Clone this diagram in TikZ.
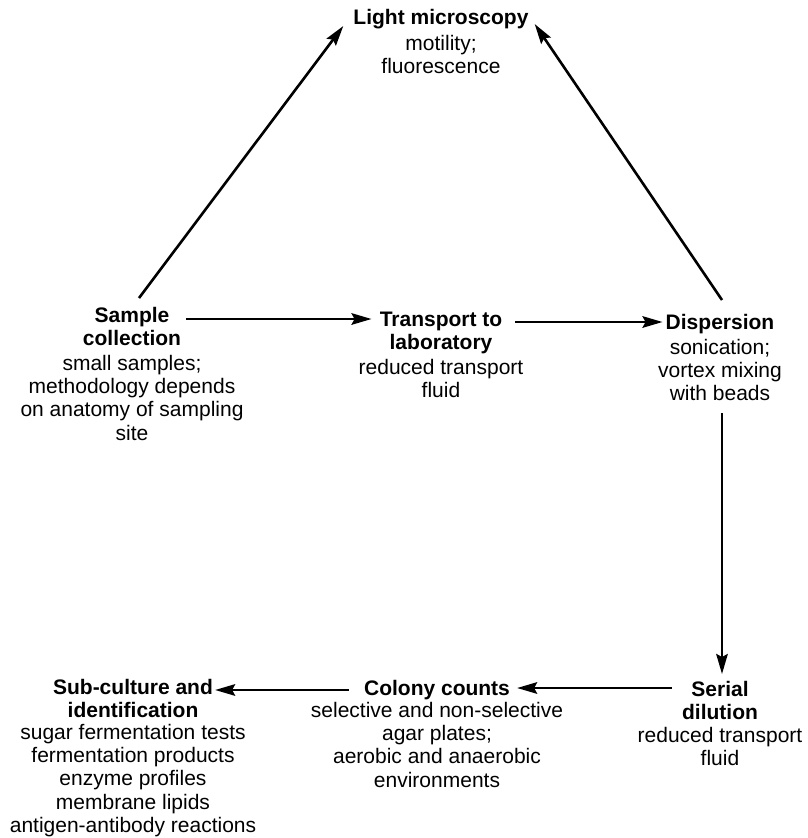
\documentclass[tikz,border=0pt]{standalone}
\usepackage{fontspec}
\setmainfont{Liberation Sans}
\usetikzlibrary{arrows.meta,calc}
\begin{document}
\begin{tikzpicture}[x=1pt,y=-1pt,
  title/.style={font=\fontsize{21}{23.3}\selectfont\bfseries, align=center, inner sep=0pt, anchor=north},
  desc/.style={font=\fontsize{21}{23.2}\selectfont, align=center, inner sep=0pt, anchor=north},
  flow/.style={line width=2.6pt, -{Stealth[length=20pt,width=11.5pt,inset=3pt]}}]
\useasboundingbox (0,0) rectangle (807,838);

% stage titles
\node[title] (lightT) at (441,9) {Light microscopy};
\node[title] (sampleT) at (132,307) {Sample\\collection};
\node[title] (transT) at (441,312) {Transport to\\laboratory};
\node[title] (dispT) at (720,314) {Dispersion};
\node[title] (serialT) at (720,681) {Serial\\dilution};
\node[title] (colonyT) at (437,680) {Colony counts};
\node[title] (subT) at (133,679) {Sub-culture and\\identification};

% stage details
\node[desc] (lightD) at (441,35) {motility;\\fluorescence};
\node[desc] (sampleD) at (132,355) {small samples;\\methodology depends\\on anatomy of sampling\\site};
\node[desc] (transD) at (441,359) {reduced transport\\fluid};
\node[desc] (dispD) at (720,339) {sonication;\\vortex mixing\\with beads};
\node[desc] (serialD) at (720,727) {reduced transport\\fluid};
\node[desc] (colonyD) at (437,702) {selective and non-selective\\agar plates;\\aerobic and anaerobic\\environments};
\node[desc] (subD) at (133,724) {sugar fermentation tests\\fermentation products\\enzyme profiles\\membrane lipids\\antigen-antibody reactions};

% start points of the horizontal connectors
\coordinate (s1) at ($(sampleT.north east)+(5,12)$);
\coordinate (s2) at ($(transT.north east)+(13,10)$);
\coordinate (s3) at ($(serialT.north west)+(-10,7)$);
\coordinate (s4) at ($(colonyT.west)+(-15,0)$);

% connectors
\draw[flow] ($(sampleT.north)+(7,-9)$) -- ($(lightT.west)+(-10,7)$);
\draw[flow] ($(dispT.north)+(2,-14)$) -- ($(lightT.east)+(6,5)$);
\draw[flow, shorten >=8pt] (s1) -- (s1 -| transT.west);
\draw[flow, shorten >=3pt] (s2) -- (s2 -| dispT.west);
\draw[flow] ($(dispD.south)+(2,12)$) -- ($(serialT.north)+(2,-7)$);
\draw[flow, shorten >=7pt] (s3) -- (s3 -| colonyT.east);
\draw[flow, shorten >=2pt] (s4) -- (s4 -| subT.east);
\end{tikzpicture}
\end{document}
